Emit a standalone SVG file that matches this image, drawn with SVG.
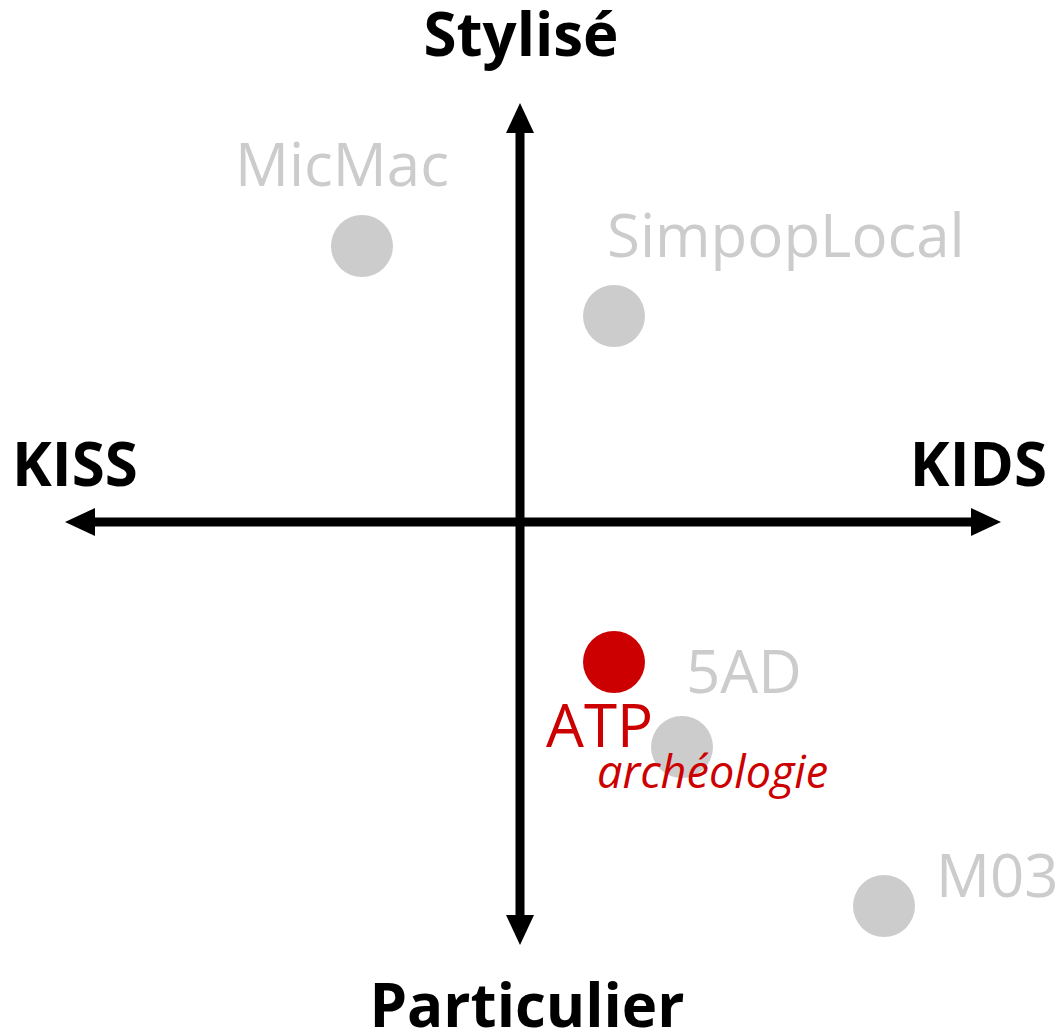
<svg xmlns="http://www.w3.org/2000/svg" width="1062" height="1034" viewBox="0 0 1062 1034">
<defs>
<style>
.axis{font-family:"Open Sans","Liberation Sans",sans-serif;font-weight:bold;font-size:60px;fill:#000}
.lbl{font-family:"Open Sans","Liberation Sans",sans-serif;font-size:60px;fill:#cccccc}
.red{fill:#cc0000}
.dot{fill:#cccccc}
.ax{stroke:#000;stroke-width:9;fill:none}
</style>
<marker id="ah" viewBox="0 0 30 28" refX="0" refY="14" markerWidth="30" markerHeight="28" markerUnits="userSpaceOnUse" orient="auto-start-reverse">
<path d="M0,0 L30,14 L0,28 Z" fill="#000"/>
</marker>
</defs>
<rect width="1062" height="1034" fill="#fff"/>
<g id="connectors">
<line class="ax" x1="520" y1="915" x2="520" y2="133" marker-start="url(#ah)" marker-end="url(#ah)"/>
<line class="ax" x1="95" y1="522" x2="971" y2="522" marker-start="url(#ah)" marker-end="url(#ah)"/>
</g>
<g id="axis-labels">
<text class="axis" x="521" y="56" text-anchor="middle">Stylisé</text>
<text class="axis" x="527" y="1027" text-anchor="middle">Particulier</text>
<text class="axis" x="12" y="486">KISS</text>
<text class="axis" x="1047" y="486" text-anchor="end">KIDS</text>
</g>
<g id="micmac">
<circle class="dot" cx="362" cy="246" r="31"/>
<text class="lbl" x="235" y="186">MicMac</text>
</g>
<g id="simpoplocal">
<circle class="dot" cx="614" cy="316" r="31"/>
<text class="lbl" x="607" y="257">SimpopLocal</text>
</g>
<g id="5ad">
<circle class="dot" cx="682" cy="747" r="31"/>
<text class="lbl" x="686" y="693">5AD</text>
</g>
<g id="m03">
<circle class="dot" cx="884" cy="906" r="31"/>
<text class="lbl" x="936" y="897">M03</text>
</g>
<g id="atp">
<circle class="red" cx="614" cy="662" r="31"/>
<text class="lbl red" x="597" y="788" style="font-size:45px;font-style:italic">archéologie</text>
<text class="lbl red" x="546" y="747">ATP</text>
</g>
</svg>
